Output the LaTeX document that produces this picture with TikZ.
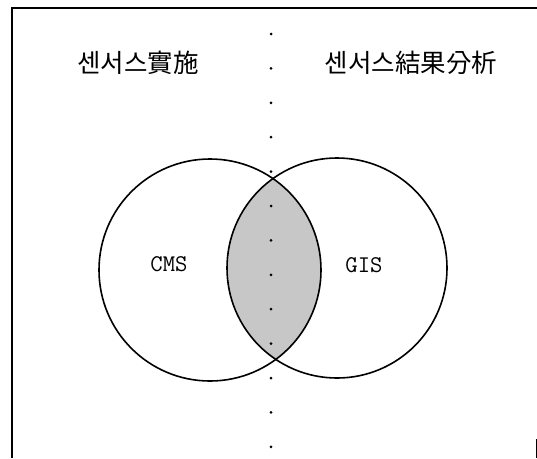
\documentclass[tikz,border=0pt]{standalone}
\usepackage{fontspec}
\newfontfamily\kofont{Noto Sans CJK KR}
\begin{document}
\begin{tikzpicture}[x=1pt,y=-1pt,
  title/.style={font=\kofont\fontsize{25.5}{25.5}\selectfont},
  setlabel/.style={font=\ttfamily\fontsize{24}{24}\selectfont},
  setline/.style={line width=1.6pt}]
  \useasboundingbox (0,0) rectangle (537,458);
  % frame
  \draw[line width=1.5pt] (12,458) -- (12,8) -- (537,8);
  \draw[line width=1pt] (536,439) -- (536,458);
  % common part
  \begin{scope}
    \clip (210,270) circle (111pt);
    \fill[black!22] (337,268) circle (110pt);
  \end{scope}
  \draw[setline] (210,270) circle (111pt);
  \draw[setline] (337,268) circle (110pt);
  % dotted divider
  \foreach \k in {0,...,12}
    \fill (271,34+34.4*\k) circle (1.5pt);
  \node[title] (census) at (138,63) {센서스實施};
  \node[title] (analysis) at (411,63) {센서스結果分析};
  \node[setlabel] (cms) at (169,264) {CMS};
  \node[setlabel] (gis) at (364,265) {GIS};
\end{tikzpicture}
\end{document}
